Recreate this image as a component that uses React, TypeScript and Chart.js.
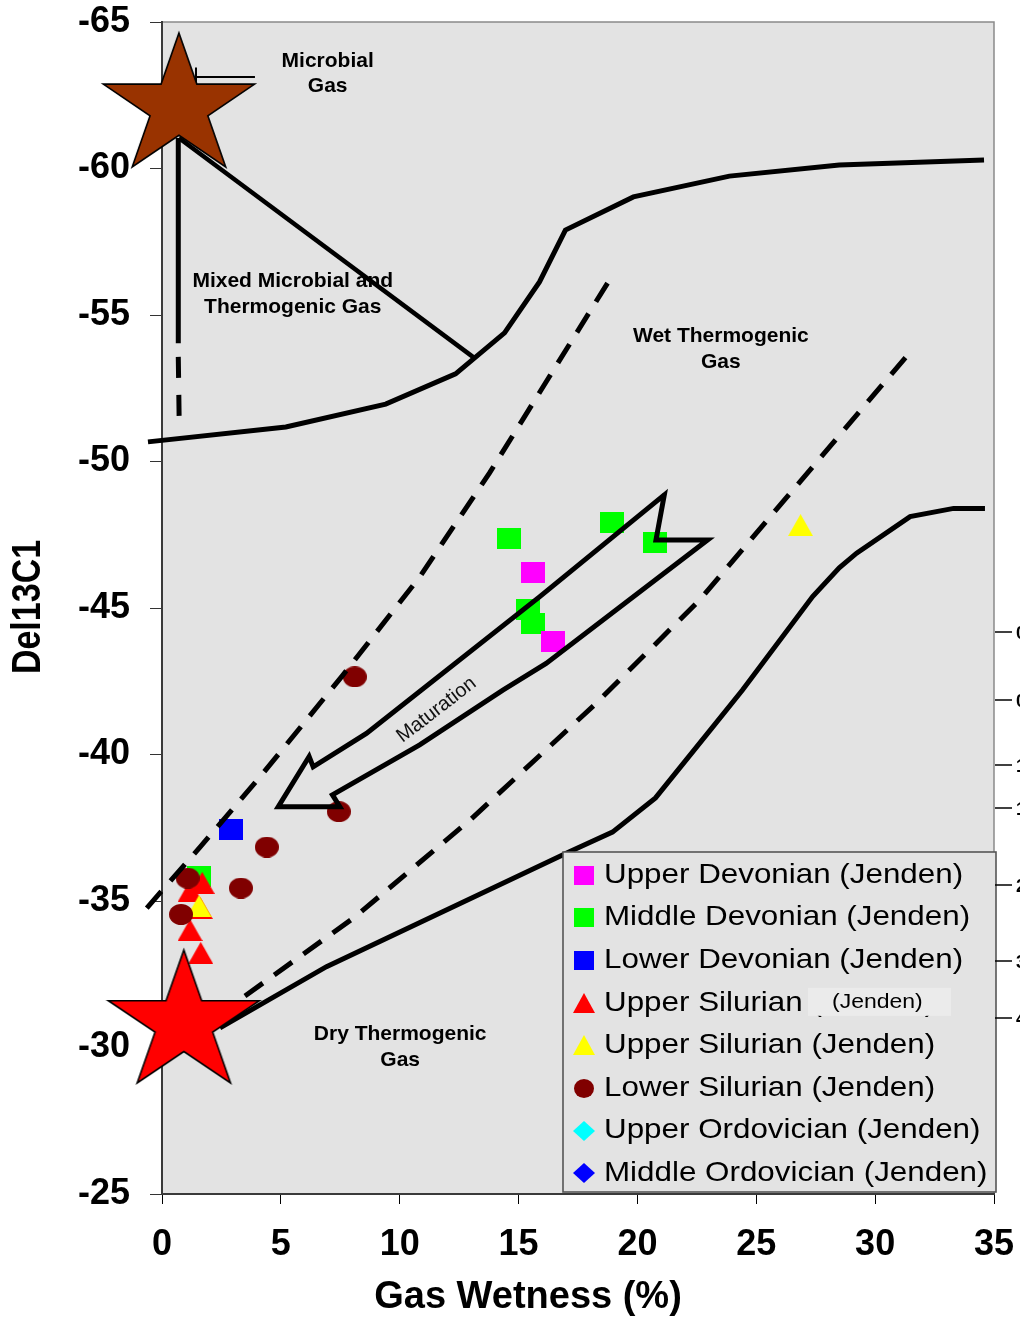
import { useEffect, useRef } from "react";
import { Chart, registerables } from "chart.js";

Chart.register(...registerables);

const FONT = "'Liberation Sans', Arial, Helvetica, sans-serif";

// Axis ticks
const X_TICKS = [0, 5, 10, 15, 20, 25, 30, 35];
const Y_TICKS = [-65, -60, -55, -50, -45, -40, -35, -30, -25];

// Samples: gas wetness (%) and del13C1 (per mil)
const upperDevonianX = [15.62, 16.46];
const upperDevonianY = [-46.22, -43.87];
const middleDevonianX = [14.61, 15.38, 15.62, 18.91, 20.76, 1.54];
const middleDevonianY = [-47.37, -44.94, -44.46, -47.92, -47.25, -35.83];
const lowerDevonianX = [2.9];
const lowerDevonianY = [-37.44];
const upperSilurianRedX = [1.69, 1.18, 1.61, 1.18, 1.63];
const upperSilurianRedY = [-35.62, -35.34, -34.76, -34.01, -33.23];
const upperSilurianYellowX = [1.56, 26.86];
const upperSilurianYellowY = [-34.83, -47.83];
const lowerSilurianX = [8.11, 7.44, 4.41, 3.32, 1.08, 0.8];
const lowerSilurianY = [-42.65, -38.05, -36.84, -35.44, -35.78, -34.54];

// End members
const microbialEndX = [0.71];
const microbialEndY = [-62.1];
const thermogenicEndX = [0.92];
const thermogenicEndY = [-30.82];

// Genetic field boundaries
const upperBoundaryX = [-0.59, 5.21, 9.41, 12.35, 14.41, 15.88, 16.97, 19.83, 23.87, 28.49, 34.58];
const upperBoundaryY = [-50.67, -51.18, -51.96, -52.99, -54.39, -56.13, -57.9, -59.03, -59.74, -60.12, -60.29];
const lowerBoundaryX = [2.44, 6.92, 17.14, 18.95, 20.76, 23.24, 24.42, 27.37, 28.49, 29.22, 31.47, 33.3, 34.62];
const lowerBoundaryY = [-30.67, -32.76, -36.68, -37.35, -38.52, -41.01, -42.2, -45.39, -46.37, -46.87, -48.12, -48.4, -48.4];
const mixedBoundaryX = [0.71, 13.15];
const mixedBoundaryY = [-61.04, -53.53];
const mixedStemX = [0.685, 0.685];
const mixedStemY = [-61.04, -54.04];
const mixedStemDashX = [0.685, 0.72];
const mixedStemDashY = [-53.57, -51.55];
const microbialTickX = [1.43, 3.91];
const microbialTickY = [-63.12, -63.12];
const microbialNotchX = [1.43, 1.43];
const microbialNotchY = [-63.45, -62.9];
const wetLeftX = [-0.64, 1.6, 4.12, 7.61, 10.84, 13.78, 18.85];
const wetLeftY = [-34.76, -36.84, -39.23, -42.71, -46.06, -49.61, -56.23];
const wetRightX = [3.49, 8.11, 13.01, 18.28, 22.61, 31.55];
const wetRightY = [-31.76, -34.45, -37.8, -41.76, -45.27, -53.81];

// Maturation arrow outline
const arrowX = [21.13, 15.88, 8.6, 6.36, 6.19, 4.89, 7.48, 7.17, 10.84, 14.34, 16.16, 22.95, 20.78, 21.13, 15.88];
const arrowY = [-48.86, -45.38, -40.72, -39.58, -39.93, -38.22, -38.22, -38.62, -40.33, -42.2, -43.11, -47.32, -47.32, -48.86, -45.38];

// Legend
const LEGEND_LABELS = [
  "Upper Devonian (Jenden)",
  "Middle Devonian (Jenden)",
  "Lower Devonian (Jenden)",
  "Upper Silurian (Jenden)",
  "Upper Silurian (Jenden)",
  "Lower Silurian (Jenden)",
  "Upper Ordovician (Jenden)",
  "Middle Ordovician (Jenden)",
];
const LEGEND_MARKERS = [
  { kind: "rect", color: "#ff00ff" },
  { kind: "rect", color: "#00ff00" },
  { kind: "rect", color: "#0000ff" },
  { kind: "triangle", color: "#ff0000" },
  { kind: "triangle", color: "#ffff00" },
  { kind: "circle", color: "#800000" },
  { kind: "diamond", color: "#00ffff" },
  { kind: "diamond", color: "#0000ff" },
];

// Field names (anchored in data units)
const REGION_LABELS = [
  { lines: ["Microbial", "Gas"], x: 6.97, y: -63.23 },
  { lines: ["Mixed Microbial and", "Thermogenic Gas"], x: 5.5, y: -55.71 },
  { lines: ["Wet Thermogenic", "Gas"], x: 23.51, y: -53.84 },
  { lines: ["Dry Thermogenic", "Gas"], x: 10.02, y: -30.01 },
];
const ARROW_LABEL = { text: "Maturation", x: 11.55, y: -41.52, angle: -37.5 };

const pts = (xs: number[], ys: number[]) => xs.map((x, i) => ({ x, y: ys[i] }));

function markerImage(kind: string, fill: string, w: number, h: number) {
  const c = document.createElement("canvas");
  c.width = w;
  c.height = h;
  const g = c.getContext("2d")!;
  g.fillStyle = fill;
  g.beginPath();
  if (kind === "rect") g.rect(0, 0, w, h);
  else if (kind === "circle") g.ellipse(w / 2, h / 2, w / 2, h / 2, 0, 0, Math.PI * 2);
  else if (kind === "triangle") {
    g.moveTo(w / 2, 0);
    g.lineTo(w, h);
    g.lineTo(0, h);
    g.closePath();
  } else {
    g.moveTo(w / 2, 0);
    g.lineTo(w, h / 2);
    g.lineTo(w / 2, h);
    g.lineTo(0, h / 2);
    g.closePath();
  }
  g.fill();
  return c;
}

function starImage(fill: string, R: number, sx: number) {
  const c = document.createElement("canvas");
  const w = Math.ceil(2 * R * Math.cos(Math.PI / 10) * sx) + 6;
  const h = Math.ceil(2 * R) + 6;
  c.width = w;
  c.height = h;
  const g = c.getContext("2d")!;
  const cx = w / 2;
  const cy = h / 2;
  g.beginPath();
  for (let i = 0; i < 10; i++) {
    const a = -Math.PI / 2 + (i * Math.PI) / 5;
    const r = i % 2 === 0 ? R : R * 0.382;
    const px = cx + r * Math.cos(a) * sx;
    const py = cy + r * Math.sin(a);
    if (i === 0) g.moveTo(px, py);
    else g.lineTo(px, py);
  }
  g.closePath();
  g.fillStyle = fill;
  g.fill();
  g.lineWidth = 1.6;
  g.strokeStyle = "#000";
  g.stroke();
  return c;
}

function stretchedText(
  ctx: CanvasRenderingContext2D,
  text: string,
  x: number,
  y: number,
  font: string,
  sx: number,
  align: CanvasTextAlign
) {
  ctx.save();
  ctx.translate(x, y);
  ctx.scale(sx, 1);
  ctx.font = font;
  ctx.textAlign = align;
  ctx.textBaseline = "middle";
  ctx.fillText(text, 0, 0);
  ctx.restore();
}

const decorPlugin = {
  id: "decor",
  beforeDraw(chart: any) {
    const { ctx, chartArea: a, width, height } = chart;
    ctx.save();
    ctx.fillStyle = "#ffffff";
    ctx.fillRect(0, 0, width, height);
    ctx.fillStyle = "#e3e3e3";
    ctx.fillRect(a.left, a.top, a.right - a.left, a.bottom - a.top);
    ctx.strokeStyle = "#8a8a8a";
    ctx.lineWidth = 1.5;
    ctx.beginPath();
    ctx.moveTo(a.left, a.top);
    ctx.lineTo(a.right, a.top);
    ctx.lineTo(a.right, a.bottom);
    ctx.stroke();
    ctx.restore();
  },
  beforeDatasetsDraw(chart: any) {
    const { ctx, scales } = chart;
    ctx.save();
    ctx.fillStyle = "#000";
    REGION_LABELS.forEach((lab) => {
      const cx = scales.x.getPixelForValue(lab.x);
      const cy = scales.y.getPixelForValue(lab.y);
      const step = 25.5;
      lab.lines.forEach((line, i) => {
        const y = cy + (i - (lab.lines.length - 1) / 2) * step;
        stretchedText(ctx, line, cx, y, `bold 21px ${FONT}`, 1, "center");
      });
    });
    ctx.restore();
  },
  afterDatasetsDraw(chart: any, _args: any, opts: any) {
    const { ctx, scales } = chart;
    ctx.save();
    ctx.fillStyle = "#000";

    // arrow caption
    const ax = scales.x.getPixelForValue(ARROW_LABEL.x);
    const ay = scales.y.getPixelForValue(ARROW_LABEL.y);
    ctx.save();
    ctx.translate(ax, ay);
    ctx.rotate((ARROW_LABEL.angle * Math.PI) / 180);
    ctx.font = `20px ${FONT}`;
    ctx.textAlign = "center";
    ctx.textBaseline = "middle";
    ctx.fillStyle = "#111";
    ctx.fillText(ARROW_LABEL.text, 0, 0);
    ctx.restore();

    // legend box
    const L = { left: 563, top: 852, right: 996, bottom: 1192 };
    ctx.fillStyle = "#e3e3e3";
    ctx.fillRect(L.left, L.top, L.right - L.left, L.bottom - L.top);
    ctx.strokeStyle = "#555";
    ctx.lineWidth = 1.6;
    ctx.strokeRect(L.left, L.top, L.right - L.left, L.bottom - L.top);
    const rowStep = 42.6;
    LEGEND_LABELS.forEach((label, i) => {
      const cy = L.top + 23 + i * rowStep;
      const m = opts.legendMarkers[i];
      ctx.drawImage(m, Math.round(584 - m.width / 2), Math.round(cy - m.height / 2));
      ctx.fillStyle = "#000";
      stretchedText(ctx, label, 604, cy, `28px ${FONT}`, 1.12, "left");
      if (i === 3) {
        ctx.fillStyle = "#ebebeb";
        ctx.fillRect(808, cy - 15, 143, 28);
        ctx.fillStyle = "#000";
        stretchedText(ctx, "(Jenden)", 832, cy, `20px ${FONT}`, 1.15, "left");
      }
    });

    // axis titles
    ctx.fillStyle = "#000";
    stretchedText(ctx, "Gas Wetness (%)", 528, 1298, `bold 38px ${FONT}`, 1, "center");
    ctx.save();
    ctx.translate(29, 607);
    ctx.rotate(-Math.PI / 2);
    ctx.scale(1, 1.2);
    ctx.font = `bold 34px ${FONT}`;
    ctx.textAlign = "center";
    ctx.textBaseline = "middle";
    ctx.fillText("Del13C1", 0, 0);
    ctx.restore();

    // remnants of a secondary axis at the right edge
    const stubs = [632, 700, 765, 808, 885, 961, 1018];
    const stubText = ["0", "0", "1", "1", "2", "3", "4"];
    ctx.strokeStyle = "#000";
    ctx.lineWidth = 1.5;
    stubs.forEach((y, i) => {
      ctx.beginPath();
      ctx.moveTo(995, y);
      ctx.lineTo(1012, y);
      ctx.stroke();
      ctx.font = `bold 18px ${FONT}`;
      ctx.textAlign = "left";
      ctx.textBaseline = "middle";
      ctx.fillText(stubText[i], 1016, y + 2);
    });
    ctx.restore();
  },
};

export default function App() {
  const ref = useRef<HTMLCanvasElement | null>(null);

  useEffect(() => {
    if (!ref.current) return;
    const sq = (c: string) => markerImage("rect", c, 24, 21);
    const tri = (c: string) => markerImage("triangle", c, 25, 22);
    const circ = (c: string) => markerImage("circle", c, 24, 21);
    const legendMarkers = LEGEND_MARKERS.map((m) =>
      markerImage(m.kind, m.color, m.kind === "rect" || m.kind === "circle" ? 20 : 22, m.kind === "rect" || m.kind === "circle" ? 19 : 20)
    );

    const line = (xs: number[], ys: number[], extra: any = {}) => ({
      data: pts(xs, ys),
      showLine: true,
      borderColor: "#000",
      backgroundColor: "#000",
      borderWidth: 5,
      pointRadius: 0,
      tension: 0,
      fill: false,
      clip: false,
      order: 3,
      ...extra,
    });
    const marks = (xs: number[], ys: number[], img: HTMLCanvasElement, order: number) => ({
      data: pts(xs, ys),
      pointStyle: img,
      pointRadius: 10,
      showLine: false,
      clip: false,
      order,
    });

    const dash = [22, 14];
    const chart = new Chart(ref.current, {
      type: "scatter",
      data: {
        datasets: [
          marks(middleDevonianX, middleDevonianY, sq("#00ff00"), 10),
          marks(upperSilurianRedX, upperSilurianRedY, tri("#ff0000"), 9),
          marks(upperSilurianYellowX, upperSilurianYellowY, tri("#ffff00"), 8),
          marks(upperDevonianX, upperDevonianY, sq("#ff00ff"), 7),
          marks(lowerDevonianX, lowerDevonianY, sq("#0000ff"), 7),
          marks(lowerSilurianX, lowerSilurianY, circ("#800000"), 6),
          line(upperBoundaryX, upperBoundaryY),
          line(lowerBoundaryX, lowerBoundaryY),
          line(mixedBoundaryX, mixedBoundaryY, { borderWidth: 4.5 }),
          line(mixedStemX, mixedStemY),
          line(mixedStemDashX, mixedStemDashY, { borderDash: [21, 17] }),
          line(microbialTickX, microbialTickY, { borderWidth: 2 }),
          line(microbialNotchX, microbialNotchY, { borderWidth: 2 }),
          line(wetLeftX, wetLeftY, { borderDash: dash }),
          line(wetRightX, wetRightY, { borderDash: dash }),
          line(arrowX, arrowY, { borderWidth: 5, borderJoinStyle: "miter" }),
          marks(microbialEndX, microbialEndY, starImage("#993300", 74, 1.075), 1),
          marks(thermogenicEndX, thermogenicEndY, starImage("#ff0000", 73.5, 1.08), 1),
        ],
      } as any,
      options: {
        responsive: false,
        maintainAspectRatio: false,
        animation: false,
        events: [],
        layout: { padding: { left: 0, right: 26, top: 22, bottom: 0 } },
        plugins: {
          legend: { display: false },
          tooltip: { enabled: false },
          decor: { legendMarkers },
        } as any,
        scales: {
          x: {
            type: "linear",
            position: "bottom",
            min: 0,
            max: 35,
            afterBuildTicks: (s: any) => {
              s.ticks = X_TICKS.map((v) => ({ value: v }));
            },
            afterFit: (s: any) => {
              s.height = 129;
              s.paddingLeft = 0;
              s.paddingRight = 0;
            },
            ticks: {
              autoSkip: false,
              maxRotation: 0,
              padding: 19,
              color: "#000",
              font: { family: FONT, size: 36, weight: "bold" },
              callback: (v: any) => String(v),
            },
            grid: { drawOnChartArea: false, drawTicks: true, tickLength: 10, color: "#000", lineWidth: 1 },
            border: { display: true, color: "#3a3a3a", width: 2 },
          },
          y: {
            type: "linear",
            min: -65,
            max: -25,
            reverse: true,
            afterBuildTicks: (s: any) => {
              s.ticks = Y_TICKS.map((v) => ({ value: v }));
            },
            afterFit: (s: any) => {
              s.width = 162;
              s.paddingTop = 0;
              s.paddingBottom = 0;
            },
            ticks: {
              autoSkip: false,
              padding: 20,
              color: "#000",
              font: { family: FONT, size: 36, weight: "bold" },
              callback: (v: any) => String(v),
            },
            grid: { drawOnChartArea: false, drawTicks: true, tickLength: 12, color: "#333", lineWidth: 1 },
            border: { display: true, color: "#3a3a3a", width: 2 },
          },
        },
      } as any,
      plugins: [decorPlugin as any],
    });
    return () => chart.destroy();
  }, []);

  return (
    <div style={{ position: "fixed", left: 0, top: 0, width: 1020, height: 1323, background: "#fff" }}>
      <canvas ref={ref} width={1020} height={1323} style={{ display: "block" }} />
    </div>
  );
}
